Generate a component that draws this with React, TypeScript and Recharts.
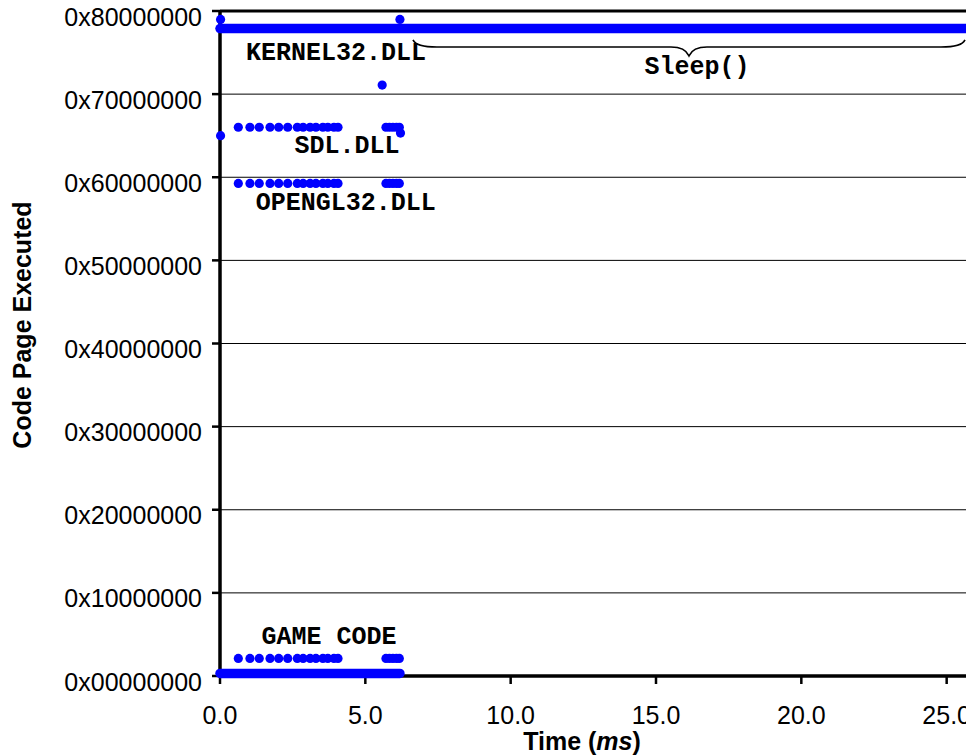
import {
  ScatterChart,
  Scatter,
  XAxis,
  YAxis,
  CartesianGrid,
  ReferenceLine,
  ReferenceDot,
  ReferenceArea,
} from 'recharts';

// Sample times (ms) of the main loop work and the short burst before Sleep()
const frameTimes = [0.63, 1.03, 1.35, 1.72, 2.02, 2.33, 2.66, 2.86, 3.1, 3.3, 3.54, 3.71, 3.92, 4.06];
const burstTimes = [5.71, 5.83, 5.95, 6.07, 6.17];

// Code pages hit on every frame
const gameCodePage = 0x03600000;
const openglPage = 0x5ed00000;
const sdlPage = 0x69a00000;

// Continuous runs of samples, stored as start/end of the run
const kernelBand = [
  { x: 0, y: 0x7ca00000 },
  { x: 28, y: 0x7ca00000 },
];
const gameBand = [
  { x: 0, y: 0x00800000 },
  { x: 6.19, y: 0x00800000 },
];

// Isolated samples
const strayPoints = [
  { x: 0.02, y: 0x7e600000 },
  { x: 6.19, y: 0x7e600000 },
  { x: 5.58, y: 0x71c00000 },
  { x: 0.02, y: 0x68000000 },
  { x: 6.21, y: 0x68800000 },
];

// Module labels
const annotations = [
  { text: 'KERNEL32.DLL', x: 3.99, y: 0x78500000 },
  { text: 'SDL.DLL', x: 4.37, y: 0x66600000 },
  { text: 'OPENGL32.DLL', x: 4.33, y: 0x5b700000 },
  { text: 'GAME CODE', x: 3.75, y: 0x07e00000 },
  { text: 'Sleep()', x: 16.41, y: 0x75a00000 },
];

// Brace marking the sleeping part of the frame
const sleepSpan = { x1: 6.64, x2: 25.63, y1: 0x77600000, y2: 0x7a700000 };

const xTicks = [0, 5, 10, 15, 20, 25, 30];
const yTicks = [0, 0x10000000, 0x20000000, 0x30000000, 0x40000000, 0x50000000, 0x60000000, 0x70000000, 0x80000000];

const BLUE = '#0000ff';
const SANS = "'Liberation Sans', Arial, Helvetica, sans-serif";
const MONO = "'Courier New', 'Liberation Mono', monospace";

const rowPoints = (times: number[], page: number) => times.map(t => ({ x: t, y: page }));

const gamePoints = [...rowPoints(frameTimes, gameCodePage), ...rowPoints(burstTimes, gameCodePage)];
const openglPoints = [...rowPoints(frameTimes, openglPage), ...rowPoints(burstTimes, openglPage)];
const sdlPoints = [...rowPoints(frameTimes, sdlPage), ...rowPoints(burstTimes, sdlPage)];

const hex = (v: number) => '0x' + v.toString(16).toUpperCase().padStart(8, '0');

const Dot = (p: any) => <circle cx={p.cx} cy={p.cy} r={4.6} fill={BLUE} />;
const NoDot = () => <g />;

const YTick = ({ x, y, payload }: any) => (
  <text x={x} y={y + 14.5} textAnchor="end" fontFamily={SANS} fontSize={25} fill="#000">
    {hex(payload.value)}
  </text>
);

const XTick = ({ x, y, payload }: any) => (
  <text x={x} y={y + 40} textAnchor="middle" fontFamily={SANS} fontSize={25} fill="#000">
    {payload.value.toFixed(1)}
  </text>
);

const XTitle = ({ viewBox }: any) => (
  <text x={viewBox.x + 362} y={viewBox.y + 74} textAnchor="middle" fontFamily={SANS} fontSize={25} fontWeight="bold" fill="#000">
    Time (<tspan fontStyle="italic">ms</tspan>)
  </text>
);

const YTitle = ({ viewBox }: any) => {
  const cx = viewBox.x + 31;
  const cy = viewBox.y + 314;
  return (
    <text x={cx} y={cy} transform={`rotate(-90, ${cx}, ${cy})`} textAnchor="middle" fontFamily={SANS} fontSize={25} fontWeight="bold" fill="#000">
      Code Page Executed
    </text>
  );
};

const Brace = ({ x, y, width, height }: any) => {
  const mid = x + width / 2;
  const yb = y + height * 0.45;
  const yt = y + height;
  const right = x + width;
  const d =
    `M${x},${y} Q${x + 3},${yb} ${x + 24},${yb} L${mid - 18},${yb} Q${mid - 4},${yb} ${mid},${yt} ` +
    `Q${mid + 4},${yb} ${mid + 18},${yb} L${right - 24},${yb} Q${right - 3},${yb} ${right},${y}`;
  return <path d={d} fill="none" stroke="#000" strokeWidth={1.6} />;
};

const bandLine = { stroke: BLUE, strokeWidth: 9.5, strokeLinecap: 'round' };

export default function App() {
  return (
    <div style={{ position: 'absolute', left: 0, top: 0, width: 966, height: 755, overflow: 'hidden', background: '#fff' }}>
      <ScatterChart width={1120} height={755} margin={{ top: 11, right: 28, left: 0, bottom: 0 }}>
        <CartesianGrid horizontal vertical={false} stroke="#000" strokeWidth={1} />
        <XAxis
          type="number"
          dataKey="x"
          domain={[0, 30]}
          ticks={xTicks}
          height={79}
          tickSize={8}
          tickMargin={0}
          axisLine={{ stroke: '#000', strokeWidth: 3.5 }}
          tickLine={{ stroke: '#000', strokeWidth: 2.5 }}
          tick={<XTick />}
          label={{ content: (p: any) => <XTitle {...p} /> }}
        />
        <YAxis
          type="number"
          dataKey="y"
          domain={[0, 0x80000000]}
          ticks={yTicks}
          width={220}
          tickSize={8}
          tickMargin={10}
          axisLine={{ stroke: '#000', strokeWidth: 3.5 }}
          tickLine={{ stroke: '#000', strokeWidth: 2.5 }}
          tick={<YTick />}
          label={{ content: (p: any) => <YTitle {...p} /> }}
        />
        <ReferenceLine y={0x80000000} stroke="#000" strokeWidth={3} />

        <Scatter data={kernelBand} fill={BLUE} line={bandLine} shape={NoDot} isAnimationActive={false} />
        <Scatter data={gameBand} fill={BLUE} line={bandLine} shape={NoDot} isAnimationActive={false} />
        <Scatter data={gamePoints} fill={BLUE} shape={Dot} isAnimationActive={false} />
        <Scatter data={openglPoints} fill={BLUE} shape={Dot} isAnimationActive={false} />
        <Scatter data={sdlPoints} fill={BLUE} shape={Dot} isAnimationActive={false} />
        <Scatter data={strayPoints} fill={BLUE} shape={Dot} isAnimationActive={false} />

        <ReferenceArea x1={sleepSpan.x1} x2={sleepSpan.x2} y1={sleepSpan.y1} y2={sleepSpan.y2} shape={Brace} />

        {annotations.map(a => (
          <ReferenceDot
            key={a.text}
            x={a.x}
            y={a.y}
            r={0}
            fill="none"
            stroke="none"
            label={{
              value: a.text,
              position: 'center',
              fill: '#000',
              fontFamily: MONO,
              fontSize: 25,
              fontWeight: 'bold',
            }}
          />
        ))}
      </ScatterChart>
    </div>
  );
}
